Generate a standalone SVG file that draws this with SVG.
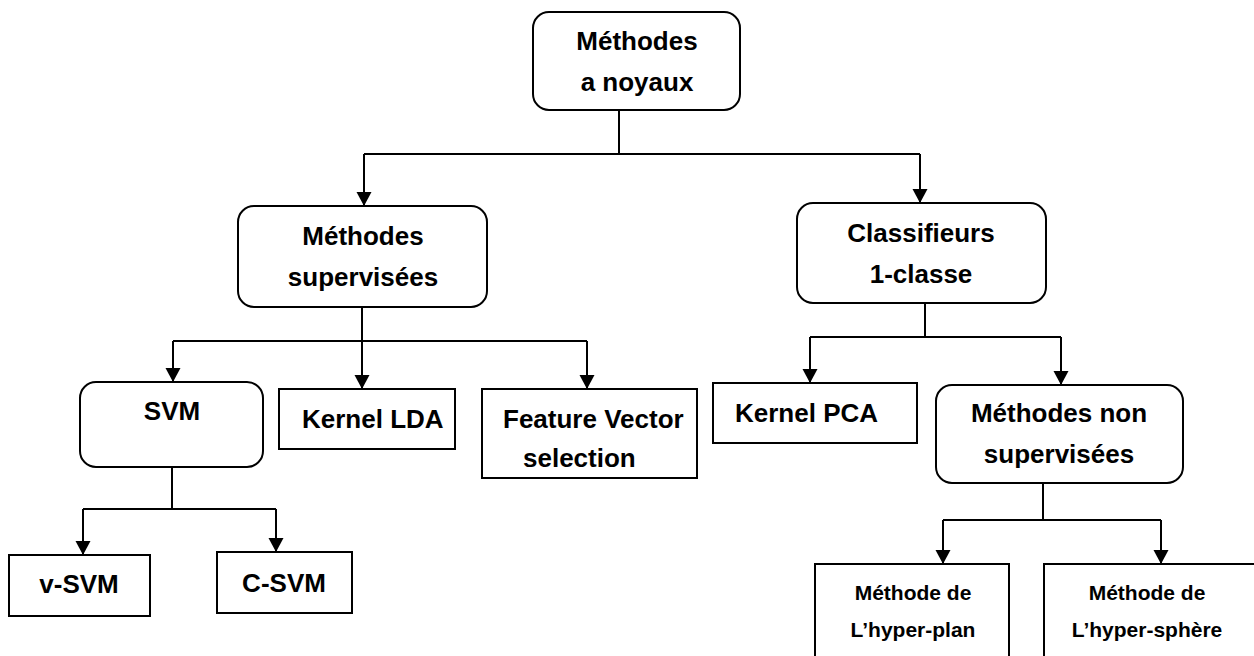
<svg xmlns="http://www.w3.org/2000/svg" width="1254" height="656" viewBox="0 0 1254 656">
<style>
.box{fill:#fff;stroke:#000;stroke-width:2}
.t{font-family:"Liberation Sans",Arial,sans-serif;font-weight:bold;font-size:26px;fill:#000}
.s{font-size:21px}
.c{text-anchor:middle}
.ln{fill:none;stroke:#000;stroke-width:2}
</style>
<defs>
<marker id="ah" markerUnits="userSpaceOnUse" markerWidth="15" markerHeight="16" refX="14" refY="8" orient="auto" viewBox="0 0 15 16">
<path d="M0,0.5 L14,8 L0,15.5 Z" fill="#000"/>
</marker>
</defs>
<rect width="1254" height="656" fill="#fff"/>
<g id="connectors">
<path class="ln" d="M619,110 V154 M364,154 H920"/>
<path class="ln" d="M364,154 V206" marker-end="url(#ah)"/>
<path class="ln" d="M920,154 V203" marker-end="url(#ah)"/>
<path class="ln" d="M173,341 H587"/>
<path class="ln" d="M362,294 V389" marker-end="url(#ah)"/>
<path class="ln" d="M173,341 V382" marker-end="url(#ah)"/>
<path class="ln" d="M587,341 V389" marker-end="url(#ah)"/>
<path class="ln" d="M172,463 V509 M83,509 H276"/>
<path class="ln" d="M83,509 V555" marker-end="url(#ah)"/>
<path class="ln" d="M276,509 V552" marker-end="url(#ah)"/>
<path class="ln" d="M925,293 V337 M810,337 H1061"/>
<path class="ln" d="M810,337 V383" marker-end="url(#ah)"/>
<path class="ln" d="M1061,337 V385" marker-end="url(#ah)"/>
<path class="ln" d="M1043,475 V520 M943,520 H1161"/>
<path class="ln" d="M943,520 V564" marker-end="url(#ah)"/>
<path class="ln" d="M1161,520 V564" marker-end="url(#ah)"/>
</g>
<g id="n-root">
<rect class="box" x="533" y="12" width="207" height="98" rx="16"/>
<text class="t c" x="637" y="50">Méthodes</text>
<text class="t c" x="637" y="91">a noyaux</text>
</g>
<g id="n-sup">
<rect class="box" x="238" y="206" width="249" height="101" rx="16"/>
<text class="t c" x="363" y="245">Méthodes</text>
<text class="t c" x="363" y="286">supervisées</text>
</g>
<g id="n-class">
<rect class="box" x="797" y="203" width="249" height="100" rx="16"/>
<text class="t c" x="921" y="242">Classifieurs</text>
<text class="t c" x="921" y="283">1-classe</text>
</g>
<g id="n-svm">
<rect class="box" x="80" y="382" width="183" height="85" rx="16"/>
<text class="t c" x="172" y="420">SVM</text>
</g>
<g id="n-lda">
<rect class="box" x="279" y="389" width="176" height="60"/>
<text class="t" x="302" y="428">Kernel LDA</text>
</g>
<g id="n-fvs">
<rect class="box" x="482" y="389" width="215" height="89"/>
<text class="t" x="503" y="428">Feature Vector</text>
<text class="t" x="523" y="467">selection</text>
</g>
<g id="n-pca">
<rect class="box" x="713" y="383" width="204" height="60"/>
<text class="t" x="735" y="422">Kernel PCA</text>
</g>
<g id="n-nonsup">
<rect class="box" x="936" y="385" width="247" height="98" rx="16"/>
<text class="t c" x="1059" y="422">Méthodes non</text>
<text class="t c" x="1059" y="463">supervisées</text>
</g>
<g id="n-vsvm">
<rect class="box" x="9" y="555" width="141" height="61"/>
<text class="t c" x="79" y="593">v-SVM</text>
</g>
<g id="n-csvm">
<rect class="box" x="217" y="552" width="135" height="61"/>
<text class="t c" x="284" y="592">C-SVM</text>
</g>
<g id="n-plan">
<rect class="box" x="815" y="564" width="194" height="110"/>
<text class="t s c" x="913" y="600">Méthode de</text>
<text class="t s c" x="913" y="637">L’hyper-plan</text>
</g>
<g id="n-sphere">
<rect class="box" x="1044" y="564" width="230" height="110"/>
<text class="t s c" x="1147" y="600">Méthode de</text>
<text class="t s c" x="1147" y="637">L’hyper-sphère</text>
</g>
</svg>
